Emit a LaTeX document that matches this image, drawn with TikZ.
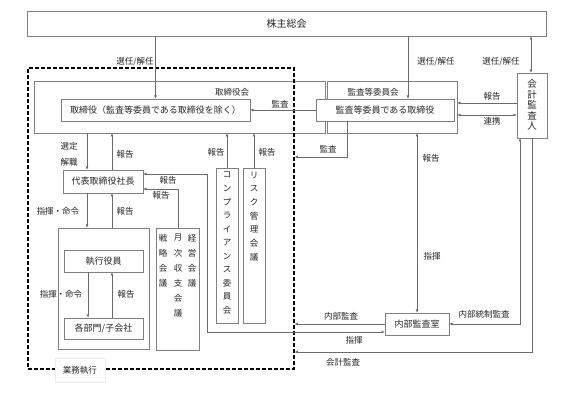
\documentclass[tikz,border=0pt]{standalone}
\usepackage{fontspec}
\setmainfont{Noto Sans CJK JP}
\usetikzlibrary{arrows.meta}
\definecolor{boxc}{HTML}{808080}
\definecolor{linec}{HTML}{6A6A6A}
\definecolor{txt}{HTML}{262626}
\begin{document}
\begin{tikzpicture}[x=1pt,y=-1pt,
  box/.style={draw=boxc, line width=0.6pt, fill=white, inner sep=0pt, text=txt, font=\fontsize{9}{11}\selectfont},
  lbl/.style={inner sep=0pt, text=txt, font=\fontsize{8.5}{10}\selectfont},
  vch/.style={inner sep=0pt, text=txt, font=\fontsize{8.5}{10}\selectfont},
  arr/.style={draw=linec, line width=0.6pt, -{Latex[length=3.2pt,width=2.8pt]}},
  arrtwo/.style={draw=linec, line width=0.6pt, {Latex[length=3.2pt,width=2.8pt]}-{Latex[length=3.2pt,width=2.8pt]}},
  dashbox/.style={draw=black, line width=1.1pt, dash pattern=on 4pt off 2pt, inner sep=0pt}]
\useasboundingbox (0,0) rectangle (566,393);
\fill[white] (0,0) rectangle (566,393);

% top box
\node[box, minimum width=519pt, minimum height=25pt, font=\fontsize{10}{12}\selectfont] (kabu) at (286.5,23.5) {株主総会};

% board and audit committee frames
\node[box, minimum width=291pt, minimum height=52pt] (torikai) at (179.5,107) {};
\node[box, minimum width=130pt, minimum height=52pt] (kansakai) at (392,107) {};
\node[lbl] (torikailbl) at (232,92) {取締役会};
\node[lbl] (kansakailbl) at (373,92) {監査等委員会};
\node[box, minimum width=189pt, minimum height=22pt] (tori) at (155.5,110) {取締役（監査等委員である取締役を除く）};
\node[box, minimum width=138pt, minimum height=22pt] (kansatori) at (385,110) {監査等委員である取締役};

% accounting auditor
\node[box, minimum width=30pt, minimum height=65pt] (kaikei) at (532,105.5) {};
\foreach \c [count=\i] in {会,計,監,査,人}
  \node[vch, font=\fontsize{9.5}{10}\selectfont] (kk\i) at (532,{84+10.6*(\i-1)}) {\c};

% execution frame
\node[dashbox, minimum width=266pt, minimum height=301pt] (gyomu) at (161,218.5) {};

\node[box, minimum width=80pt, minimum height=23pt] (daihyo) at (103,181.5) {代表取締役社長};
\node[box, minimum width=91pt, minimum height=121pt] (execouter) at (103.5,288.5) {};
\node[box, minimum width=79pt, minimum height=22pt] (shikko) at (103.5,261) {執行役員};
\node[box, minimum width=79pt, minimum height=21pt] (kakubu) at (103.5,328.5) {各部門/子会社};

\node[box, minimum width=43pt, minimum height=122pt] (kaigi) at (177.5,289) {};
\foreach \c [count=\i] in {戦,略,会,議}
  \node[vch] (ka\i) at (163,{238+15*(\i-1)}) {\c};
\foreach \c [count=\i] in {月,次,収,支,会,議}
  \node[vch] (kb\i) at (178,{238+15*(\i-1)}) {\c};
\foreach \c [count=\i] in {経,営,会,議}
  \node[vch] (kc\i) at (192,{238+15*(\i-1)}) {\c};

\node[box, minimum width=22pt, minimum height=155pt] (compl) at (227,245.5) {};
\foreach \c [count=\i] in {コ,ン,プ,ラ,イ,ア,ン,ス,委,員,会}
  \node[vch] (co\i) at (227,{175+13.5*(\i-1)}) {\c};
\node[box, minimum width=22pt, minimum height=155pt] (risk) at (254,245.5) {};
\foreach \c [count=\i] in {リ,ス,ク,管,理,会,議}
  \node[vch] (ri\i) at (254,{175+13.7*(\i-1)}) {\c};

\node[box, minimum width=64pt, minimum height=22pt] (naibu) at (417,324) {内部監査室};

\node[lbl, fill=white, draw=black!7, line width=0.4pt, minimum width=50pt, minimum height=24pt] (gyomulbl) at (80,370) {業務執行};

% helper coordinates
\coordinate (xk2) at (408,0);
\coordinate (xk3) at (531,0);
\coordinate (y103) at (0,103);
\coordinate (y115) at (0,115);
\coordinate (a1) at (347,157);
\coordinate (p1) at (207,174);
\coordinate (p2) at (207,332);
\coordinate (q1) at (520,324);
\coordinate (q2) at (532,352);
\coordinate (x87) at (87,0);
\coordinate (x112) at (112,0);
\coordinate (x88) at (88,0);
\coordinate (r1) at (178,189);

% connectors
\draw[arr] (kabu.south -| tori.north) -- (tori.north);
\draw[arr] (kabu.south -| xk2) -- (kansatori.north -| xk2);
\draw[arrtwo] (kabu.south -| xk3) -- (kaikei.north -| xk3);
\draw[arr] (kansatori.west) -- (tori.east);
\draw[arr] (kaikei.west |- y103) -- (kansakai.east |- y103);
\draw[arrtwo] (kaikei.west |- y115) -- (kansakai.east |- y115);
\draw[arr] (kansatori.south -| a1) -- (a1) -- (a1 -| gyomu.east);
\draw[arrtwo] (kansakai.south -| naibu.north) -- (naibu.north);
\draw[arr] (naibu.west) -- (naibu.west -| gyomu.east);
\draw[arrtwo] (p1 -| daihyo.east) -- (p1) -- (p2) -- (p2 -| naibu.west);
\draw[arrtwo] (kaikei.south -| q1) -- (q1) -- (naibu.east);
\draw[arr] (kaikei.south -| q2) -- (q2) -- (q2 -| gyomu.east);
\draw[arr] (torikai.south -| x87) -- (daihyo.north -| x87);
\draw[arr] (daihyo.north -| x112) -- (torikai.south -| x112);
\draw[arr] (daihyo.south -| x87) -- (execouter.north -| x87);
\draw[arr] (execouter.north -| x112) -- (daihyo.south -| x112);
\draw[arr] (shikko.south -| x88) -- (kakubu.north -| x88);
\draw[arr] (kakubu.north -| x112) -- (shikko.south -| x112);
\draw[arr] (kaigi.north -| r1) -- (r1) -- (r1 -| daihyo.east);
\draw[arr] (compl.north) -- (compl.north |- torikai.south);
\draw[arr] (risk.north) -- (risk.north |- torikai.south);

% labels
\node[lbl] (l1) at (135,62) {選任/解任};
\node[lbl] (l2) at (436,62) {選任/解任};
\node[lbl] (l3) at (501,62) {選任/解任};
\node[lbl] (l4) at (280,104) {監査};
\node[lbl] (l5) at (492,96) {報告};
\node[lbl] (l6) at (492,121) {連携};
\node[lbl] (l7) at (328,149) {監査};
\node[lbl] (l8) at (431,158) {報告};
\node[lbl] (l9) at (432,256) {指揮};
\node[lbl] (l10) at (341,316) {内部監査};
\node[lbl] (l11) at (354,340) {指揮};
\node[lbl] (l12) at (343,362) {会計監査};
\node[lbl] (l13) at (484,314) {内部統制監査};
\node[lbl] (l14) at (69,146) {選定};
\node[lbl] (l15) at (69,162) {解職};
\node[lbl] (l16) at (125,154) {報告};
\node[lbl] (l17) at (58,211) {指揮・命令};
\node[lbl] (l18) at (125,211) {報告};
\node[lbl] (l19) at (168,180) {報告};
\node[lbl] (l20) at (161,195) {報告};
\node[lbl] (l21) at (61,294) {指揮・命令};
\node[lbl] (l22) at (126,294) {報告};
\node[lbl] (l23) at (216,152) {報告};
\node[lbl] (l24) at (267,152) {報告};
\end{tikzpicture}
\end{document}
